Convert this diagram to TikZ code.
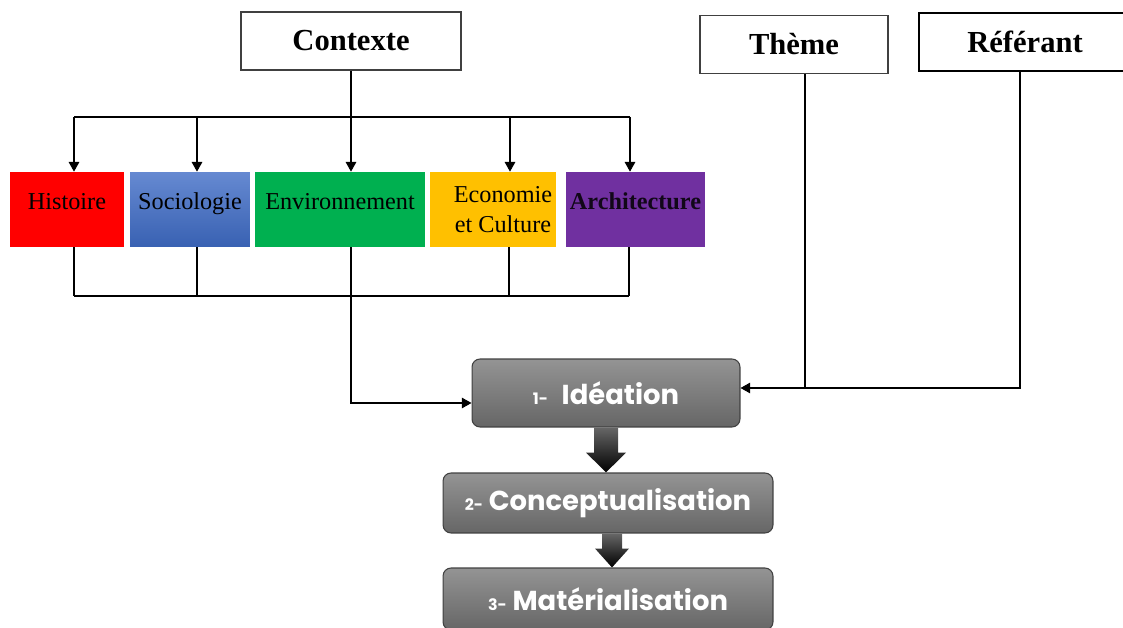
\documentclass[tikz,border=0pt]{standalone}
\usepackage{fontspec}
\setmainfont{Liberation Serif}
\newfontfamily\stagefont{Poppins}
\usetikzlibrary{arrows.meta,calc}

\definecolor{histred}{HTML}{FF0000}
\definecolor{socblue}{HTML}{3F6CC6}
\definecolor{envgreen}{HTML}{00B050}
\definecolor{ecoorange}{HTML}{FFC000}
\definecolor{archpurple}{HTML}{7030A0}

\begin{document}
\begin{tikzpicture}[x=0.02cm, y=-0.02cm,
    every node/.style={inner sep=0pt},
    topbox/.style={draw=black!75, line width=0.6pt, minimum height=1.16cm, font=\fontsize{17.4}{20}\selectfont\bfseries},
    field/.style={minimum height=1.5cm, text height=10pt, text depth=10pt, font=\fontsize{13.8}{16}\selectfont},
    stage/.style={draw=black!75, line width=0.6pt, rounded corners=0.16cm, top color=black!42, bottom color=black!60, text=white, font=\stagefont\fontsize{15.6}{18}\selectfont\bfseries},
    link/.style={line width=0.6pt},
    arr/.style={link, -{Triangle[length=5.5pt, width=6pt]}},
    bigarrow/.style={top color=black!60, bottom color=black}]
    \useasboundingbox (0,0) rectangle (1123,628);

    \node[topbox, minimum width=4.4cm] (ctx) at (351,41) {Contexte};
    \node[topbox, minimum width=3.76cm] (theme) at (794,44.5) {Thème};
    \node[topbox, minimum width=4.24cm, line width=1.3pt, draw=black] (ref) at (1025,42) {Référant};

    \node[field, fill=histred, minimum width=2.28cm] (hist) at (67,209.5) {Histoire};
    \node[field, top color=socblue!80!white, bottom color=socblue!90!black, minimum width=2.4cm] (soc) at (190,209.5) {Sociologie};
    \node[field, fill=envgreen, minimum width=3.4cm] (env) at (340,209.5) {Environnement};
    \node[field, fill=ecoorange, minimum width=2.52cm, text height=, text depth=, align=center, font=\fontsize{13.8}{17}\selectfont] (eco) at (493,209.5) {\hspace*{0.4cm}Economie\\\hspace*{0.4cm}et Culture};
    \node[field, fill=archpurple, minimum width=2.78cm, font=\fontsize{13.8}{16}\selectfont\bfseries, text=black!85!archpurple] (arch) at (635.5,209.5) {Architecture};

    \node[stage, minimum width=5.36cm, minimum height=1.36cm] (idea) at (606,393) {{\fontsize{9}{10}\selectfont 1-}\enspace Idéation};
    \node[stage, minimum width=6.6cm, minimum height=1.2cm] (concept) at (608,503) {{\fontsize{9}{10}\selectfont 2-} Conceptualisation};
    \node[stage, minimum width=6.6cm, minimum height=1.24cm] (mater) at (608,599) {{\fontsize{9}{10}\selectfont 3-} Matérialisation};

    % bus from Contexte
    \coordinate (t1) at (74,117);
    \coordinate (t2) at (197,117);
    \coordinate (t3) at (351,117);
    \coordinate (t4) at (510,117);
    \coordinate (t5) at (630,117);
    \draw[link] (ctx.south) -- (t3);
    \draw[link] (t1) -- (t5);
    \foreach \t/\n in {t1/hist, t2/soc, t3/env, t4/eco, t5/arch}
        \draw[arr] (\t) -- (\t |- \n.north);

    % bus below the fields
    \coordinate (b1) at (74,296);
    \coordinate (b2) at (197,296);
    \coordinate (b4) at (509,296);
    \coordinate (b5) at (629,296);
    \draw[link] (b1) -- (b5);
    \foreach \b/\n in {b1/hist, b2/soc, b4/eco, b5/arch}
        \draw[link] (\b |- \n.south) -- (\b);
    \draw[arr] (env.south -| t3) |- ([yshift=-0.2cm]idea.west);

    % Theme and Referant
    \coordinate (j1) at (805,388);
    \coordinate (j2) at (1020,388);
    \draw[link] (j1 |- theme.south) -- (j1);
    \draw[arr] (j2 |- ref.south) -- (j2) -- (j2 -| idea.east);

    % block arrows
    \coordinate (a1) at (idea.south);
    \coordinate (a2) at ($(concept.south)+(4,0)$);
    \shade[bigarrow] ($(a1)+(-12,0)$) -- ++(24,0) -- ++(0,25) -- ++(8,0) -- (a1 |- concept.north) -- ($(a1)+(-20,25)$) -- ++(8,0) -- cycle;
    \shade[bigarrow] ($(a2)+(-10,0)$) -- ++(20,0) -- ++(0,15) -- ++(7,0) -- (a2 |- mater.north) -- ($(a2)+(-17,15)$) -- ++(7,0) -- cycle;
\end{tikzpicture}
\end{document}
